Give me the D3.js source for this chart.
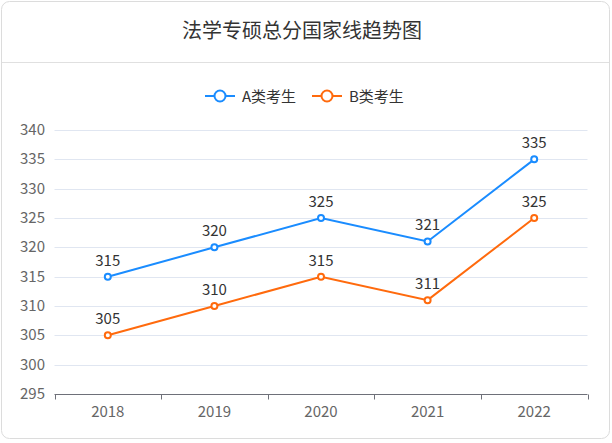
<!DOCTYPE html>
<html><head><meta charset="utf-8">
<script src="https://cdn.jsdelivr.net/npm/d3@7/dist/d3.min.js"></script>
<style>body{margin:0;background:#fff;}svg{display:block;font-family:"Microsoft YaHei","Noto Sans CJK SC",sans-serif;}</style>
</head><body>
<svg id="c" width="612" height="443"></svg>
<script>
const title = "法学专硕总分国家线趋势图";
const years = ["2018","2019","2020","2021","2022"];
const seriesNames = ["A类考生","B类考生"];
const seriesA = [315,320,325,321,335];
const seriesB = [305,310,315,311,325];
const yTicks = [295,300,305,310,315,320,325,330,335,340];
const colors = ["#1a8cff","#ff6a0d"];

const svg = d3.select("#c");
svg.append("rect").attr("x",1.5).attr("y",1.5).attr("width",608).attr("height",437)
  .attr("rx",8).attr("fill","#fff").attr("stroke","#dcdcdc");
svg.append("line").attr("x1",2).attr("x2",609).attr("y1",62.5).attr("y2",62.5).attr("stroke","#e0e0e0");
svg.append("text").attr("x",302).attr("y",38).attr("text-anchor","middle")
  .attr("font-size",20).attr("fill","#333").text(title);

const x = d3.scaleBand().domain(years).range([54.5,587.5]);
const y = d3.scaleLinear().domain([295,340]).range([394,130]);

const g = svg.append("g");
g.selectAll("line.grid").data(yTicks.filter(d=>d!==295)).join("line")
  .attr("x1",54.5).attr("x2",587.5).attr("y1",d=>Math.round(y(d))+0.5).attr("y2",d=>Math.round(y(d))+0.5)
  .attr("stroke","#e0e6f1");
g.selectAll("text.yl").data(yTicks).join("text")
  .attr("x",45).attr("y",d=>y(d)+5).attr("text-anchor","end").attr("font-size",15).attr("fill","#666").text(d=>d);

const ax = svg.append("g").attr("transform","translate(0,394.5)");
ax.append("line").attr("x1",54.5).attr("x2",587.5).attr("stroke","#6e7079");
const bounds = [...years.map(d=>x(d)), x.range()[1]];
ax.selectAll("line.t").data(bounds).join("line").attr("x1",d=>Math.round(d)+0.5).attr("x2",d=>Math.round(d)+0.5)
  .attr("y1",0).attr("y2",5).attr("stroke","#6e7079");
ax.selectAll("text").data(years).join("text").attr("x",d=>x(d)+x.bandwidth()/2).attr("y",22)
  .attr("text-anchor","middle").attr("font-size",15).attr("fill","#666").text(d=>d);

const cx = d => x(d)+x.bandwidth()/2;
[seriesA, seriesB].forEach((vals,i)=>{
  const pts = years.map((yr,j)=>[cx(yr), y(vals[j]), vals[j]]);
  svg.append("path").attr("d", d3.line()(pts.map(p=>[p[0],p[1]])))
    .attr("fill","none").attr("stroke",colors[i]).attr("stroke-width",2);
  svg.selectAll(null).data(pts).join("circle").attr("cx",p=>p[0]).attr("cy",p=>p[1]).attr("r",3)
    .attr("fill","#fff").attr("stroke",colors[i]).attr("stroke-width",2);
  svg.selectAll(null).data(pts).join("text").attr("x",p=>p[0]).attr("y",p=>p[1]-11)
    .attr("text-anchor","middle").attr("font-size",15).attr("fill","#333").text(p=>p[2]);
});

// legend
const legX = [205, 312];
seriesNames.forEach((n,i)=>{
  const lg = svg.append("g").attr("transform",`translate(${legX[i]},96)`);
  lg.append("line").attr("x1",0).attr("x2",30).attr("stroke",colors[i]).attr("stroke-width",2);
  lg.append("circle").attr("cx",15).attr("r",5.5).attr("fill","#fff").attr("stroke",colors[i]).attr("stroke-width",2);
  lg.append("text").attr("x",37).attr("y",5.5).attr("font-size",15).attr("fill","#333").text(n);
});
</script>
</body></html>
